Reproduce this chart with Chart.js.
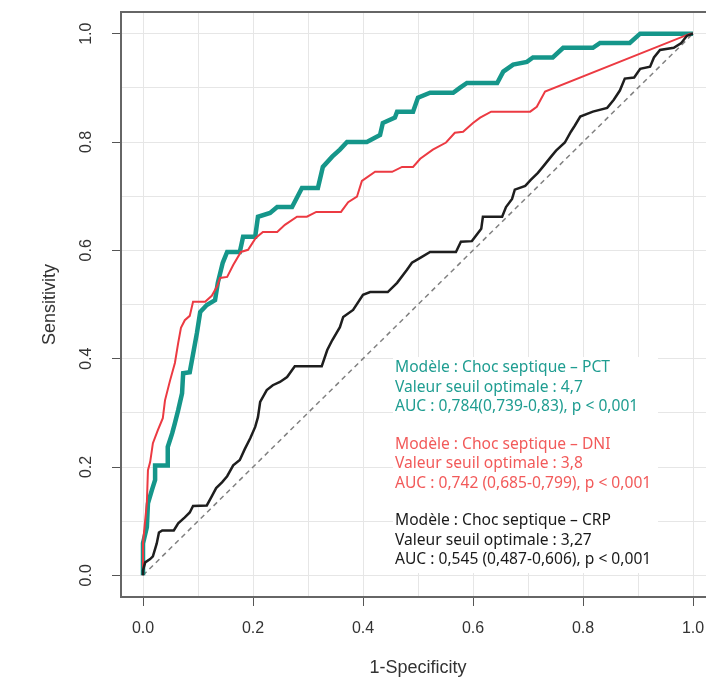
<!DOCTYPE html>
<html>
<head>
<meta charset="utf-8">
<script src="https://cdn.jsdelivr.net/npm/chart.js@4.4.0/dist/chart.umd.min.js"></script>
<style>
  html, body { margin: 0; padding: 0; background: #fff; overflow: hidden; }
  #wrap { width: 716px; height: 681px; }
</style>
</head>
<body>
<div id="wrap"><canvas id="rocChart" width="716" height="681"></canvas></div>
<script>
// ROC curves (x = 1-specificity, y = sensitivity)
const pctX = [0, 0, 0.007, 0.009, 0.016, 0.022, 0.022, 0.044, 0.045, 0.053, 0.058, 0.064, 0.071, 0.073, 0.085, 0.098, 0.104, 0.116, 0.131, 0.136, 0.145, 0.153, 0.176, 0.182, 0.204, 0.209, 0.231, 0.244, 0.271, 0.289, 0.318, 0.327, 0.344, 0.358, 0.371, 0.407, 0.431, 0.436, 0.458, 0.462, 0.491, 0.500, 0.522, 0.564, 0.576, 0.589, 0.644, 0.655, 0.673, 0.698, 0.709, 0.745, 0.764, 0.818, 0.831, 0.885, 0.904, 1];
const pctY = [0, 0.059, 0.089, 0.133, 0.157, 0.176, 0.203, 0.203, 0.237, 0.262, 0.281, 0.305, 0.336, 0.373, 0.375, 0.447, 0.486, 0.499, 0.508, 0.540, 0.577, 0.597, 0.597, 0.625, 0.625, 0.662, 0.669, 0.680, 0.680, 0.715, 0.715, 0.754, 0.773, 0.786, 0.800, 0.800, 0.813, 0.835, 0.845, 0.856, 0.856, 0.882, 0.891, 0.891, 0.900, 0.909, 0.909, 0.930, 0.943, 0.948, 0.956, 0.956, 0.974, 0.974, 0.983, 0.983, 1, 1];

const dniX = [0, 0, 0.004, 0.007, 0.009, 0.013, 0.018, 0.027, 0.036, 0.040, 0.049, 0.058, 0.064, 0.069, 0.076, 0.085, 0.091, 0.113, 0.125, 0.135, 0.140, 0.153, 0.164, 0.178, 0.191, 0.205, 0.218, 0.244, 0.258, 0.280, 0.298, 0.315, 0.360, 0.373, 0.389, 0.398, 0.422, 0.453, 0.471, 0.491, 0.504, 0.527, 0.551, 0.567, 0.582, 0.600, 0.613, 0.633, 0.704, 0.716, 0.731, 0.995, 1];
const dniY = [0, 0.060, 0.102, 0.133, 0.194, 0.209, 0.244, 0.268, 0.290, 0.323, 0.359, 0.392, 0.429, 0.457, 0.471, 0.479, 0.505, 0.505, 0.516, 0.534, 0.549, 0.551, 0.573, 0.597, 0.601, 0.623, 0.634, 0.634, 0.647, 0.662, 0.662, 0.671, 0.671, 0.689, 0.699, 0.728, 0.745, 0.745, 0.754, 0.754, 0.769, 0.786, 0.799, 0.817, 0.819, 0.835, 0.845, 0.856, 0.856, 0.865, 0.893, 1, 1];

const crpX = [0, 0, 0.004, 0.013, 0.018, 0.025, 0.029, 0.035, 0.056, 0.064, 0.076, 0.085, 0.091, 0.116, 0.124, 0.133, 0.144, 0.153, 0.164, 0.176, 0.185, 0.195, 0.204, 0.209, 0.213, 0.225, 0.236, 0.249, 0.262, 0.276, 0.325, 0.335, 0.344, 0.358, 0.364, 0.382, 0.400, 0.413, 0.445, 0.462, 0.480, 0.489, 0.504, 0.522, 0.569, 0.578, 0.598, 0.615, 0.618, 0.653, 0.660, 0.671, 0.676, 0.695, 0.705, 0.718, 0.727, 0.742, 0.751, 0.767, 0.778, 0.785, 0.795, 0.818, 0.844, 0.856, 0.867, 0.876, 0.893, 0.904, 0.922, 0.929, 0.940, 0.965, 0.978, 0.989, 1];
const crpY = [0, 0.009, 0.024, 0.030, 0.035, 0.059, 0.079, 0.083, 0.083, 0.096, 0.107, 0.116, 0.128, 0.129, 0.144, 0.161, 0.172, 0.183, 0.203, 0.213, 0.233, 0.253, 0.274, 0.292, 0.320, 0.342, 0.351, 0.357, 0.366, 0.386, 0.386, 0.416, 0.434, 0.458, 0.477, 0.490, 0.518, 0.523, 0.523, 0.540, 0.564, 0.577, 0.586, 0.597, 0.597, 0.616, 0.617, 0.640, 0.662, 0.662, 0.680, 0.695, 0.712, 0.719, 0.730, 0.743, 0.754, 0.773, 0.784, 0.799, 0.819, 0.830, 0.847, 0.856, 0.863, 0.878, 0.895, 0.917, 0.919, 0.935, 0.939, 0.956, 0.970, 0.974, 0.982, 0.996, 1];

const chanceX = [0, 1];
const chanceY = [0, 1];

// axes
const gridValues = [0, 0.1, 0.2, 0.3, 0.4, 0.5, 0.6, 0.7, 0.8, 0.9, 1];
const tickLabels = ["0.0", "0.2", "0.4", "0.6", "0.8", "1.0"];
const axisMin = -0.04, axisMax = 1.04;

// annotation text, one block per model
const notes = [
  { color: "#1f9d91", lines: ["Modèle : Choc septique – PCT", "Valeur seuil optimale : 4,7", "AUC : 0,784(0,739-0,83), p < 0,001"] },
  { color: "#f25a5a", lines: ["Modèle : Choc septique – DNI", "Valeur seuil optimale : 3,8", "AUC : 0,742 (0,685-0,799), p < 0,001"] },
  { color: "#1a1a1a", lines: ["Modèle : Choc septique – CRP", "Valeur seuil optimale : 3,27", "AUC : 0,545 (0,487-0,606), p < 0,001"] }
];

const toPoints = (xs, ys) => xs.map((x, i) => ({ x: x, y: ys[i] }));

const tickFont = { family: "'Liberation Sans', Arial, sans-serif", size: 16 };
const titleFont = { family: "'Liberation Sans', Arial, sans-serif", size: 18 };
const isLabeled = (v) => tickLabels.includes(Number(v).toFixed(1));

// box around the plot + text block
const framePlugin = {
  id: "frame",
  afterDraw(chart) {
    const { ctx, chartArea } = chart;
    ctx.save();
    ctx.strokeStyle = "#666";
    ctx.lineWidth = 2;
    ctx.strokeRect(chartArea.left, chartArea.top, chartArea.right - chartArea.left, chartArea.bottom - chartArea.top);

    ctx.fillStyle = "#fff";
    ctx.fillRect(393, 357, 265, 216);
    ctx.font = "15.6px 'Noto Sans', 'Open Sans', sans-serif";
    ctx.textBaseline = "middle";
    ctx.textAlign = "left";
    let y = 368;
    notes.forEach((block) => {
      ctx.fillStyle = block.color;
      block.lines.forEach((line) => {
        ctx.fillText(line, 395, y);
        y += 19.5;
      });
      y += 18;
    });
    ctx.restore();
  }
};

new Chart(document.getElementById("rocChart"), {
  type: "scatter",
  data: {
    datasets: [
      { label: "CRP", data: toPoints(crpX, crpY), borderColor: "#1e1e1e", borderWidth: 2.5 },
      { label: "DNI", data: toPoints(dniX, dniY), borderColor: "#ec3a42", borderWidth: 2 },
      { label: "PCT", data: toPoints(pctX, pctY), borderColor: "#15968a", borderWidth: 4.5 },
      { label: "chance", data: toPoints(chanceX, chanceY), borderColor: "#808080", borderWidth: 1.5, borderDash: [5, 4] }
    ].map((d) => Object.assign(d, { showLine: true, pointRadius: 0, fill: false, tension: 0 }))
  },
  options: {
    responsive: false,
    animation: false,
    layout: { padding: { top: 12, right: 1, left: 0, bottom: 0 } },
    plugins: { legend: { display: false }, tooltip: { enabled: false } },
    scales: {
      x: {
        type: "linear",
        min: axisMin,
        max: axisMax,
        afterBuildTicks: (s) => { s.ticks = gridValues.map((v) => ({ value: v })); },
        afterFit: (s) => { s.height = 84; s.paddingLeft = 0; s.paddingRight = 0; },
        border: { display: false },
        grid: {
          color: "#e6e6e6",
          lineWidth: 1,
          tickLength: 9,
          tickColor: (c) => (c.tick && isLabeled(c.tick.value) ? "#555" : "rgba(0,0,0,0)")
        },
        ticks: {
          autoSkip: false,
          maxRotation: 0,
          padding: 13,
          color: "#333",
          font: tickFont,
          callback: (v) => (isLabeled(v) ? Number(v).toFixed(1) : "")
        },
        title: { display: true, text: "1-Specificity", color: "#333", font: titleFont, padding: { top: 0, bottom: 2 } }
      },
      y: {
        type: "linear",
        min: axisMin,
        max: axisMax,
        afterBuildTicks: (s) => { s.ticks = gridValues.map((v) => ({ value: v })); },
        afterFit: (s) => { s.width = 121; s.paddingTop = 0; s.paddingBottom = 0; },
        border: { display: false },
        grid: {
          color: "#e6e6e6",
          lineWidth: 1,
          tickLength: 9,
          tickColor: (c) => (c.tick && isLabeled(c.tick.value) ? "#555" : "rgba(0,0,0,0)")
        },
        ticks: {
          autoSkip: false,
          minRotation: 90,
          maxRotation: 90,
          crossAlign: "center",
          padding: 14,
          color: "#333",
          font: tickFont,
          callback: (v) => (isLabeled(v) ? Number(v).toFixed(1) : "")
        },
        title: { display: true, text: "Sensitivity", color: "#333", font: titleFont, padding: { top: 39, bottom: 0 } }
      }
    }
  },
  plugins: [framePlugin]
});
</script>
</body>
</html>
